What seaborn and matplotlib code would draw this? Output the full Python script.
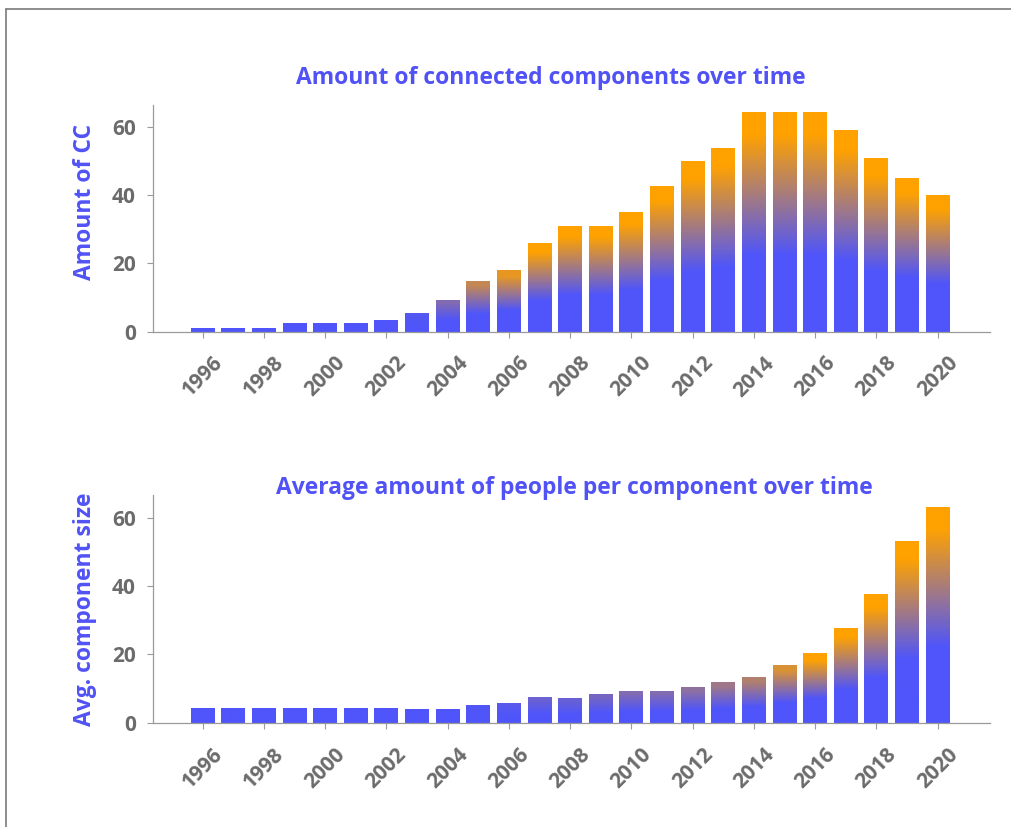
import numpy as np
import pandas as pd
import matplotlib
matplotlib.use("Agg")
import matplotlib.pyplot as plt
from matplotlib.lines import Line2D
import matplotlib.colors as mcolors
import seaborn as sns

years = list(range(1996, 2021))
cc_counts = [1, 1, 1, 2.5, 2.5, 2.5, 3.5, 5.5, 9.4, 15, 18, 26, 31, 31, 35,
             42.7, 50, 54, 64.5, 64.5, 64.5, 59.3, 51, 45.2, 40.1]
avg_size = [4.4, 4.4, 4.4, 4.4, 4.4, 4.4, 4.4, 4.1, 4.1, 5.2, 5.9, 7.4, 7.2, 8.4, 9.4,
            9.4, 10.4, 11.8, 13.4, 16.8, 20.3, 27.8, 37.7, 53.3, 63.2]
titles = ["Amount of connected components over time",
          "Average amount of people per component over time"]
ylabels = ["Amount of CC", "Avg. component size"]

BLUE = np.array(mcolors.to_rgb("#4f55fa"))
ORANGE = np.array(mcolors.to_rgb("#ffa200"))
TITLE_BLUE = "#5152f5"
TICK_GREY = "#6b6b6b"

sns.set_theme(style="white")
plt.rcParams["font.family"] = ["Open Sans", "DejaVu Sans"]

fig = plt.figure(figsize=(10.11, 8.27), dpi=100)
axes = [fig.add_axes([0.151, 0.599, 0.828, 0.274]),
        fig.add_axes([0.151, 0.126, 0.828, 0.275])]

datasets = [cc_counts, avg_size]
title_x = [0.476, 0.504]
title_pad = [15, 1]
label_y = [0.573, 0.5]

for ax, vals, title, ylab, tx, tp, ly in zip(axes, datasets, titles, ylabels,
                                              title_x, title_pad, label_y):
    df = pd.DataFrame({"year": [str(y) for y in years], "value": vals})
    sns.barplot(data=df, x="year", y="value", ax=ax, width=0.78, color=BLUE)
    for p in ax.patches:
        x0, w, h = p.get_x(), p.get_width(), p.get_height()
        s = float(np.clip((h - 5.0) / 15.0, 0, 1))
        f = np.linspace(0, 1, 256)
        t = s * np.clip((f - 0.35) / 0.55, 0, 1)
        cols = BLUE[None, :] * (1 - t[:, None]) + ORANGE[None, :] * t[:, None]
        img = cols[:, None, :]
        im = ax.imshow(img, extent=[x0, x0 + w, 0, h], origin="lower",
                       aspect="auto", zorder=p.get_zorder(), interpolation="bilinear")
        im.set_clip_path(p)
        p.set_facecolor("none")
        p.set_edgecolor("none")
    ax.set_xlim(-1.63, 25.7)
    ax.set_ylim(0, 66.5)
    ax.set_aspect("auto")
    ax.set_xticks(range(0, 25, 2))
    ax.set_xticklabels([str(y) for y in years[::2]], rotation=45, ha="center",
                       fontsize=15, fontweight="bold", color=TICK_GREY)
    ax.set_yticks([0, 20, 40, 60])
    ax.set_yticklabels(["0", "20", "40", "60"], fontsize=15, fontweight="bold", color=TICK_GREY)
    ax.tick_params(axis="both", length=4, width=0.8, color="#9a9a9a", direction="out",
                   bottom=True, left=True)
    ax.tick_params(axis="y", pad=8)
    ax.tick_params(axis="x", pad=11)
    sns.despine(ax=ax)
    for sp in ["left", "bottom"]:
        ax.spines[sp].set_color("#9a9a9a")
        ax.spines[sp].set_linewidth(0.9)
    ax.set_xlabel("")
    ax.set_ylabel(ylab, fontsize=16.5, fontweight="bold", color=TITLE_BLUE)
    ax.yaxis.set_label_coords(-0.067, ly)
    ax.set_title(title, fontsize=16.5, fontweight="bold", color=TITLE_BLUE, x=tx, pad=tp)
    ax.set_facecolor("white")

fig.add_artist(Line2D([0.006, 1.0], [0.989, 0.989], transform=fig.transFigure,
                      color="#7a7a7a", linewidth=1.2))
fig.add_artist(Line2D([0.006, 0.006], [0.0, 0.989], transform=fig.transFigure,
                      color="#7a7a7a", linewidth=1.2))

fig.savefig("out.png", dpi=100, facecolor="white")
